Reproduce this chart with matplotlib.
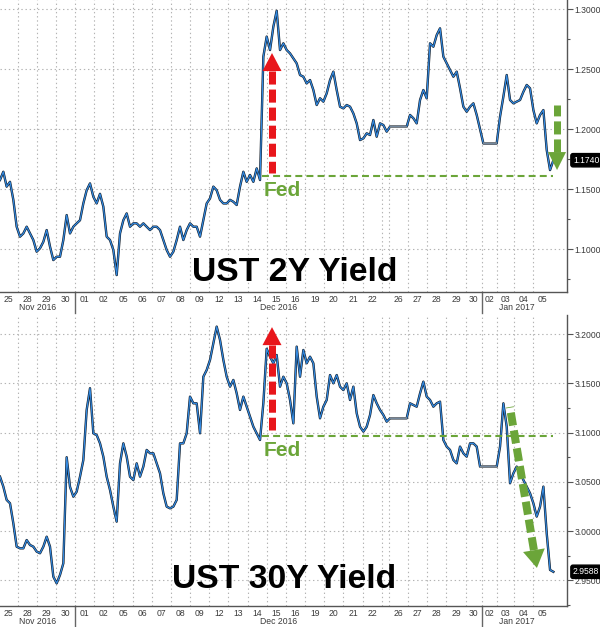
import numpy as np
import matplotlib
matplotlib.use("Agg")
import matplotlib.pyplot as plt
import matplotlib.transforms as mtransforms
from matplotlib.ticker import FixedLocator, MultipleLocator, FormatStrFormatter

plt.rcParams['lines.scale_dashes'] = False

# ---- trading-day axis (session lengths in days) ----
day_labels = ['25', '28', '29', '30',
              '01', '02', '05', '06', '07', '08', '09', '12', '13', '14', '15', '16',
              '19', '20', '21', '22', '', '26', '27', '28', '29', '30',
              '02', '03', '04', '05']
day_months = ['Nov 2016'] * 4 + ['Dec 2016'] * 22 + ['Jan 2017'] * 4
day_len = [0.92, 1, 1, 1] + [1] * 16 + [0.37] + [1] * 4 + [0.85] + [0.8, 0.85, 1, 1]

# sampling cadence of the series: every 4 h of a 23 h session
sample_step = 4 / 23

# ---- UST 2Y yield ----
yield_2y = [
    1.1575, 1.1644, 1.1520, 1.1560, 1.1410, 1.1186, 1.1103, 1.1130, 1.1186, 1.1130,
    1.1075, 1.0978, 1.1006, 1.1060, 1.1158, 1.1020, 1.0908, 1.0936, 1.0936, 1.1075,
    1.1283, 1.1130, 1.1186, 1.1214, 1.1240, 1.1380, 1.1490, 1.1547, 1.1436, 1.1380,
    1.1460, 1.1353, 1.1103, 1.1075, 1.0992, 1.0783, 1.1130, 1.1240, 1.1297, 1.1186,
    1.1214, 1.1214, 1.1186, 1.1214, 1.1186, 1.1158, 1.1186, 1.1186, 1.1158, 1.1075,
    1.0992, 1.0936, 1.0978, 1.1075, 1.1186, 1.1075, 1.1158, 1.1214, 1.1186, 1.1186,
    1.1103, 1.1240, 1.1380, 1.1422, 1.1520, 1.1490, 1.1410, 1.1380, 1.1380, 1.1410,
    1.1394, 1.1367, 1.1520, 1.1644, 1.1560, 1.1617, 1.1560, 1.1672, 1.1575, 1.2603,
    1.2770, 1.2658, 1.2853, 1.2985, 1.2658, 1.2714, 1.2658, 1.2630, 1.2589, 1.2547,
    1.2450,
    1.2436, 1.2380, 1.2408, 1.2325, 1.2200, 1.2256, 1.2228, 1.2297, 1.2408, 1.2478,
    1.2325, 1.2186, 1.2172, 1.2200, 1.2186, 1.2130, 1.2047, 1.1908, 1.1922, 1.1964,
    1.1950, 1.2075, 1.1936, 1.2047, 1.2033, 1.1978, 1.2020, 1.2020, 1.2020, 1.2020,
    1.2020, 1.2020, 1.2117, 1.2090, 1.2047, 1.2242, 1.2325, 1.2256, 1.2714, 1.2686,
    1.2783, 1.2839, 1.2603, 1.2547, 1.2492, 1.2436, 1.2478, 1.2339, 1.2186, 1.2144,
    1.2186, 1.2214, 1.2117, 1.2000, 1.1880, 1.1880, 1.1880, 1.1880, 1.1880, 1.2103,
    1.2270, 1.2450, 1.2242, 1.2214, 1.2228, 1.2242, 1.2310, 1.2367, 1.2339, 1.2158,
    1.2047, 1.2117, 1.2158, 1.1825, 1.1658, 1.1740,
]

# ---- UST 30Y yield ----
yield_30y = [
    3.0553, 3.0452, 3.0317, 3.0283, 3.0080, 2.9843, 2.9826, 2.9826, 2.9910, 2.9860,
    2.9843, 2.9793, 2.9776, 2.9843, 2.9944, 2.9843, 2.9539, 2.9471, 2.9556, 2.9674,
    3.0750, 3.0450, 3.0350, 3.0401, 3.0553, 3.0722, 3.1230, 3.1450, 3.0993, 3.0976,
    3.0891, 3.0756, 3.0553, 3.0418, 3.0249, 3.0097, 3.0688, 3.0891, 3.0756, 3.0553,
    3.0519, 3.0688, 3.0553, 3.0655, 3.0824, 3.0790, 3.0790, 3.0688, 3.0587, 3.0384,
    3.0249, 3.0232, 3.0249, 3.0317, 3.0891, 3.0891, 3.0993, 3.1365, 3.1297, 3.1297,
    3.0993, 3.1567, 3.1635, 3.1737, 3.1905, 3.2075, 3.1940, 3.1737, 3.1567, 3.1466,
    3.1534, 3.1398, 3.1230, 3.1365, 3.1263, 3.1162, 3.1060, 3.0993, 3.0925, 3.1300,
    3.1850, 3.1770, 3.1703, 3.1787, 3.1466, 3.1567, 3.1500, 3.1331, 3.1094, 3.1872,
    3.1567,
    3.1838, 3.1703, 3.1770, 3.1703, 3.1365, 3.1145, 3.1263, 3.1331, 3.1584, 3.1500,
    3.1584, 3.1466, 3.1432, 3.1500, 3.1331, 3.1466, 3.1196, 3.1060, 3.1010, 3.1060,
    3.1179, 3.1381, 3.1297, 3.1230, 3.1179, 3.1111, 3.1145, 3.1145, 3.1145, 3.1145,
    3.1145, 3.1145, 3.1297, 3.1280, 3.1263, 3.1398, 3.1517, 3.1365, 3.1331, 3.1263,
    3.1297, 3.1314, 3.0925, 3.0858, 3.0824, 3.0722, 3.0688, 3.0858, 3.0790, 3.0756,
    3.0891, 3.0891, 3.0858, 3.0655, 3.0655, 3.0655, 3.0655, 3.0655, 3.0655, 3.0858,
    3.1297, 3.1060, 3.0486, 3.0587, 3.0655, 3.0587, 3.0519, 3.0452, 3.0384, 3.0283,
    3.0148, 3.0249, 3.0452, 2.9978, 2.9607, 2.9588,
]

# ---- annotations (time in session-days, value in yield) ----
fed_time = 13.67
fed_level_2y = 1.161
fed_level_30y = 3.097
red_arrow_2y = [(14.19, 1.1637), (14.19, 1.2633)]
red_arrow_30y = [(14.19, 3.1026), (14.19, 3.207)]
green_arrow_2y = [(29.06, 1.220), (29.06, 1.1658)]
green_arrow_30y = [(26.60, 3.126), (28.01, 2.9627)]
title_2y = 'UST 2Y Yield'
title_30y = 'UST 30Y Yield'
ylim_2y = (1.0642, 1.3075)
ylim_30y = (2.9241, 3.2193)
yticks_2y = [1.10, 1.15, 1.20, 1.25, 1.30]
yticks_30y = [2.95, 3.00, 3.05, 3.10, 3.15, 3.20]

RED = '#E8161B'
GREEN = '#6BA539'
BLUE = '#3389E0'
GRID = '#b4b4b4'
TXT = '#3a3a3a'

starts = np.concatenate([[0.0], np.cumsum(day_len)[:-1]])
ends = starts + np.array(day_len)
centers = starts + np.array(day_len) / 2
x_end = 29.58

fig = plt.figure(figsize=(6, 6.27), dpi=100)
ax1 = fig.add_axes([0, 1 - 292 / 627, 567 / 600, 292 / 627])
ax2 = fig.add_axes([0, 1 - 606 / 627, 567 / 600, 291 / 627])


def dashed_arrow(ax, start, tip, color, width_px, head_w_px, head_l_px, dash):
    T = ax.transData
    s = T.transform(start)
    e = T.transform(tip)
    d = e - s
    L = np.hypot(*d)
    u = d / L
    n = np.array([-u[1], u[0]])
    base = e - u * head_l_px
    inv = T.inverted()
    b = inv.transform(base)
    ax.plot([b[0], start[0]], [b[1], start[1]], color=color, lw=width_px * 0.72,
            dashes=dash, solid_capstyle='butt', dash_capstyle='butt', zorder=6)
    tri = np.array([base + n * head_w_px / 2, e, base - n * head_w_px / 2])
    tri_d = inv.transform(tri)
    ax.fill(tri_d[:, 0], tri_d[:, 1], color=color, lw=0, zorder=6)


def panel(ax, values, ylim, yticks, fed_level, red, green, title, title_xy,
          green_w, green_head):
    values = np.asarray(values)
    t = np.arange(len(values)) * sample_step
    ax.set_xlim(0, x_end)
    ax.set_ylim(*ylim)

    for s in ['top', 'left']:
        ax.spines[s].set_visible(False)
    for s in ['right', 'bottom']:
        ax.spines[s].set_color('#555555')
        ax.spines[s].set_linewidth(1.0)

    # y axis on the right
    ax.yaxis.tick_right()
    ax.yaxis.set_major_locator(FixedLocator(yticks))
    ax.yaxis.set_minor_locator(MultipleLocator(0.025))
    ax.yaxis.set_major_formatter(FormatStrFormatter('%.4f'))
    ax.tick_params(axis='y', which='major', length=4, width=0.8, color='#555555',
                   pad=1.5, labelsize=6.2, labelcolor=TXT)
    ax.tick_params(axis='y', which='minor', length=2.5, width=0.8, color='#555555')
    for lab in ax.get_yticklabels():
        lab.set_family('Liberation Sans')

    # x axis: day labels + gridlines at day boundaries
    ax.set_xticks(centers)
    ax.set_xticklabels(day_labels, fontsize=6.2, color=TXT, family='Liberation Sans')
    ax.xaxis.set_minor_locator(FixedLocator(starts[1:]))
    ax.tick_params(axis='x', which='both', length=0, pad=2)
    ax.grid(which='minor', axis='x', color=GRID, lw=0.8, linestyle=(0, (1, 2)))
    ax.grid(which='major', axis='x', visible=False)
    ax.grid(which='major', axis='y', color=GRID, lw=0.8, linestyle=(0, (1, 2)))
    ax.set_axisbelow(True)

    trans = mtransforms.blended_transform_factory(ax.transData, ax.transAxes)
    h = ax.bbox.height
    months = []
    for m in day_months:
        if m not in months:
            months.append(m)
    for m in months:
        idx = [i for i, mm in enumerate(day_months) if mm == m]
        a, b = starts[idx[0]], ends[idx[-1]]
        ax.text((a + b) / 2, -16 / h, m, transform=trans, ha='center', va='center',
                fontsize=6.2, color=TXT, family='Liberation Sans')
        if idx[0] > 0:
            ax.plot([a, a], [0, -21 / h], transform=trans, color='#666666', lw=1.0,
                    clip_on=False)

    # the series: dark bar outline + blue close line
    ax.plot(t, values, color='#0d1620', lw=1.7, zorder=3)
    ax.plot(t, values, color=BLUE, lw=0.9, zorder=4)
    # no-trade (holiday) stretches drawn as a thin grey line
    flat = np.r_[False, np.isclose(np.diff(values), 0)]
    i = 0
    while i < len(values):
        if flat[i]:
            j = i
            while j + 1 < len(values) and flat[j + 1]:
                j += 1
            if j - i >= 1:
                ax.plot(t[i - 1:j + 1], values[i - 1:j + 1], color='#8a8a8a',
                        lw=1.1, zorder=5, solid_capstyle='butt')
            i = j + 1
        else:
            i += 1

    # Fed level line and label
    ax.plot([fed_time, t[-1]], [fed_level, fed_level], color=GREEN, lw=1.5,
            dashes=(5, 3), zorder=5)
    ax.annotate('Fed', xy=(fed_time, fed_level), xytext=(2, -20),
                textcoords='offset pixels', ha='left', va='baseline',
                fontsize=15, fontweight='bold', color=GREEN, family='Liberation Sans',
                zorder=7)

    dashed_arrow(ax, red[0], red[1], RED, 7, 19, 18, (9.4, 3.6))
    dashed_arrow(ax, green[0], green[1], GREEN, green_w, green_head, 18, (9.4, 3.6))

    ax.text(title_xy[0], title_xy[1], title, transform=ax.transAxes, ha='left',
            va='baseline', fontsize=24.3, fontweight='bold', color='black',
            family='Liberation Sans', zorder=8)

    last = values[-1]
    ax.annotate(f'{last:.4f}', xy=(1, last), xycoords=('axes fraction', 'data'),
                xytext=(6, 0), textcoords='offset pixels', ha='left', va='center',
                fontsize=6.2, color='white', family='Liberation Sans',
                bbox=dict(boxstyle='round,pad=0.25', fc='black', ec='black'),
                annotation_clip=False, zorder=9)


panel(ax1, yield_2y, ylim_2y, yticks_2y, fed_level_2y, red_arrow_2y, green_arrow_2y,
      title_2y, (192 / 567, 11 / 292), 7, 18)
panel(ax2, yield_30y, ylim_30y, yticks_30y, fed_level_30y, red_arrow_30y, green_arrow_30y,
      title_30y, (172 / 567, 18 / 291), 8, 22)

fig.savefig('out.png', dpi=100)
